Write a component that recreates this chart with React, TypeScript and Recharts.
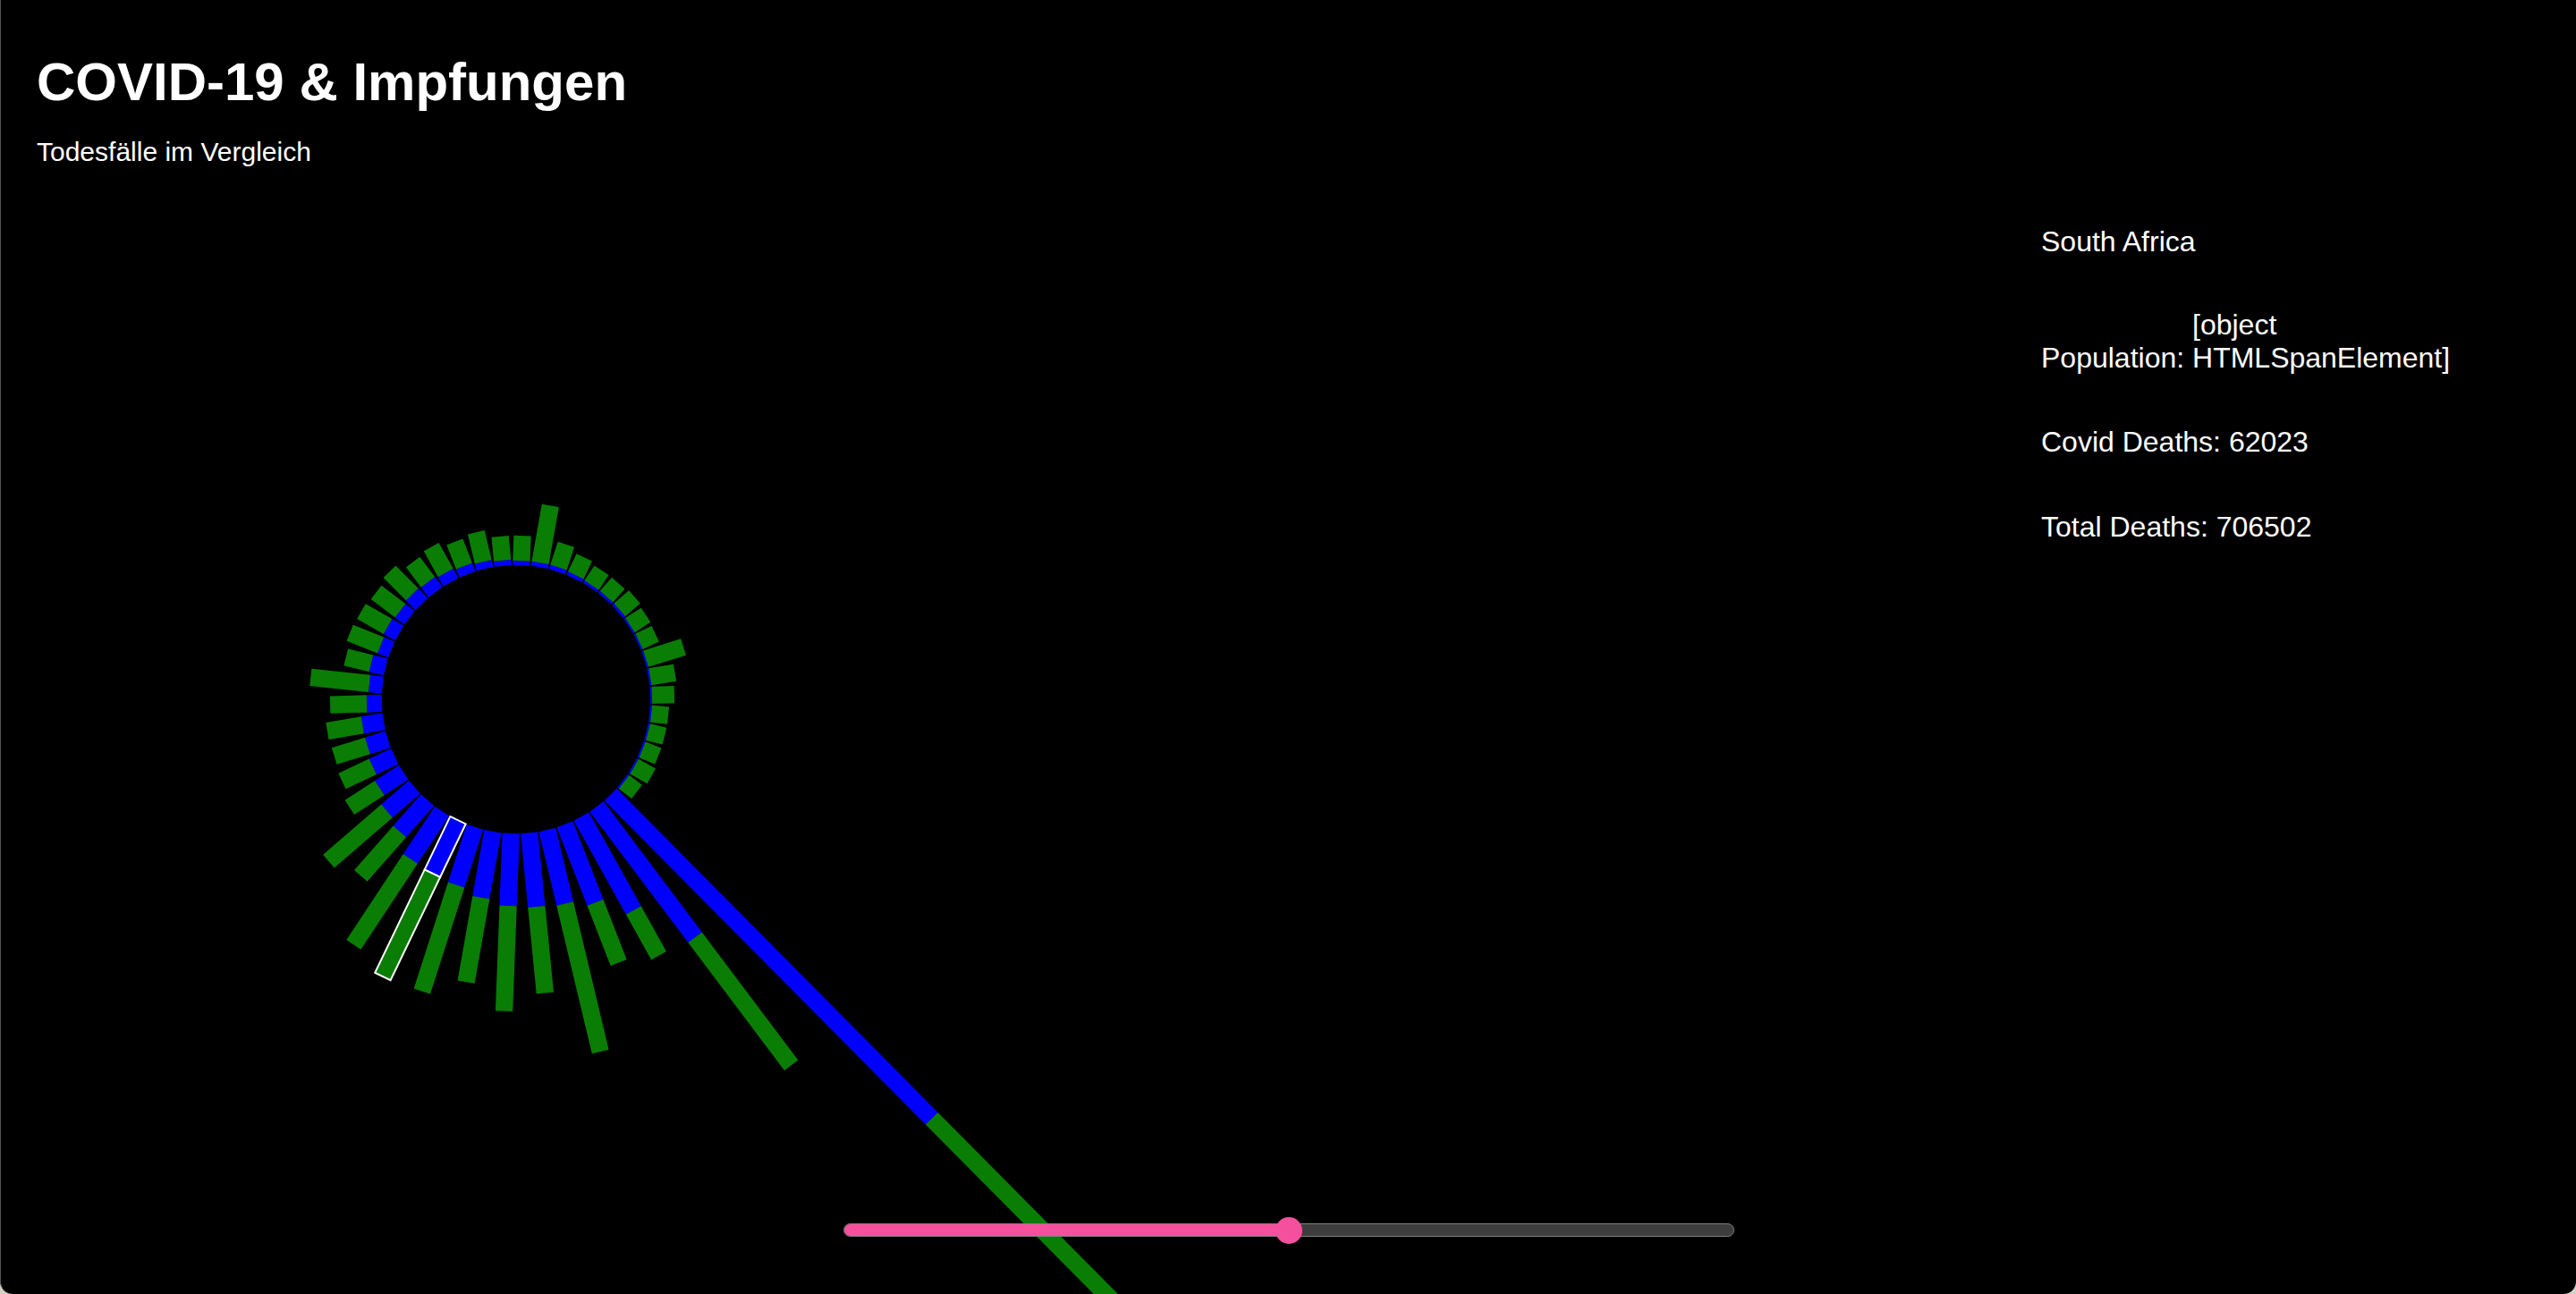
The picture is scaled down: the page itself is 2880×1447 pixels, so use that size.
import React from 'react';
import { RadialBarChart, RadialBar, PolarAngleAxis, PolarRadiusAxis } from 'recharts';

// bar lengths, in px-like units (inner ring is the 0 line)
const countries = [
  'Land 01', 'Land 02', 'Land 03', 'Land 04', 'Land 05', 'Land 06', 'Land 07', 'Land 08',
  'Land 09', 'Land 10', 'Land 11', 'Land 12', 'Land 13', 'Land 14', 'Land 15', 'Land 16',
  'Land 17', 'Land 18', 'Land 19', 'Land 20', 'Land 21', 'Land 22', 'Land 23', 'Land 24',
  'Land 25', 'Land 26', 'South Africa', 'Land 28', 'Land 29', 'Land 30', 'Land 31', 'Land 32',
  'Land 33', 'Land 34', 'Land 35', 'Land 36', 'Land 37', 'Land 38', 'Land 39', 'Land 40',
  'Land 41', 'Land 42', 'Land 43', 'Land 44', 'Land 45', 'Land 46',
];

const covidDeaths = [
  5, 5, 5, 4, 3, 3, 3, 2, 2, 2, 2, 2, 2, 2, 2, 2,
  2, 510, 183, 120, 94, 85, 83, 81, 75, 68, 66, 64, 47, 41, 32, 27,
  24, 24, 17, 15, 17, 13, 15, 13, 15, 14, 12, 10, 8, 6,
];

const otherDeaths = [
  28, 65, 27, 22, 20, 20, 22, 21, 20, 44, 28, 25, 19, 19, 19, 22,
  18, 390, 179, 58, 72, 170, 97, 118, 96, 125, 128, 115, 66, 86, 40, 38,
  39, 40, 41, 66, 29, 37, 34, 34, 36, 28, 33, 29, 34, 27,
];

const SELECTED = 'South Africa';
const INNER = 150;
const BAR_WIDTH = 19.3;

const data = countries.map((country, i) => ({
  country,
  covid: covidDeaths[i],
  other: otherDeaths[i],
}));

// draws each stacked segment as a straight rotated rect instead of a sector
const RectBar = (props: any) => {
  const { cx, cy, innerRadius, outerRadius, startAngle, endAngle, fill } = props;
  const country = props.payload?.country ?? props.country;
  const mid = (startAngle + endAngle) / 2;
  const len = Math.max(0, outerRadius - innerRadius);
  const sel = country === SELECTED;
  return (
    <rect
      x={innerRadius}
      y={-BAR_WIDTH / 2}
      width={len}
      height={BAR_WIDTH}
      fill={fill}
      stroke={sel ? '#ffffff' : 'none'}
      strokeWidth={sel ? 2 : 0}
      transform={`translate(${cx},${cy}) rotate(${-mid})`}
    />
  );
};

const font = '"Liberation Sans", Arial, Helvetica, sans-serif';

const textLine = (top: number, left: number, size: number): React.CSSProperties => ({
  position: 'absolute',
  top,
  left,
  fontSize: size,
  lineHeight: 1,
  color: '#fff',
  whiteSpace: 'nowrap',
});

export default function App() {
  return (
    <div style={{ position: 'fixed', inset: 0, background: '#d6d0c2', overflow: 'hidden' }}>
      <div
        style={{
          position: 'absolute',
          inset: 0,
          background: '#000',
          borderRadius: '0 0 14px 14px',
          borderLeft: '1px solid #555',
          overflow: 'hidden',
          fontFamily: font,
        }}
      >
        <div style={{ ...textLine(62, 40, 60), fontWeight: 700 }}>COVID-19 &amp; Impfungen</div>
        <div style={textLine(155, 40, 30)}>Todesfälle im Vergleich</div>

        <div style={{ position: 'absolute', left: 0, top: 0 }}>
          <RadialBarChart
            width={1400}
            height={1447}
            data={data}
            cx={576}
            cy={782}
            innerRadius={INNER}
            outerRadius={INNER + 1000}
            startAngle={84.07}
            endAngle={-275.93}
            layout="centric"
            barCategoryGap="2.9%"
            margin={{ top: 0, right: 0, bottom: 0, left: 0 }}
          >
            <PolarAngleAxis type="category" dataKey="country" tick={false} axisLine={false} tickLine={false} />
            <PolarRadiusAxis type="number" domain={[0, 1000]} tick={false} axisLine={false} tickLine={false} />
            <RadialBar dataKey="covid" stackId="a" fill="#0000ff" shape={RectBar} isAnimationActive={false} />
            <RadialBar dataKey="other" stackId="a" fill="#0a7d04" shape={RectBar} isAnimationActive={false} />
          </RadialBarChart>
        </div>

        <div style={textLine(254, 2281, 32)}>South Africa</div>
        <div style={{ position: 'absolute', top: 345, left: 2281, fontSize: 32, lineHeight: '37px', color: '#fff', whiteSpace: 'nowrap' }}>
          Population:{' '}
          <span style={{ display: 'inline-block' }}>
            [object
            <br />
            HTMLSpanElement]
          </span>
        </div>
        <div style={textLine(478, 2281, 32)}>Covid Deaths: 62023</div>
        <div style={textLine(573, 2281, 32)}>Total Deaths: 706502</div>

        {/* slider */}
        <div
          style={{
            position: 'absolute',
            left: 942,
            top: 1368,
            width: 996,
            height: 15,
            boxSizing: 'border-box',
            background: '#3d3d3d',
            border: '1.5px solid #808080',
            borderRadius: 8,
            overflow: 'hidden',
          }}
        >
          <div style={{ width: 498, height: '100%', background: '#f5509d' }} />
        </div>
        <div
          style={{
            position: 'absolute',
            left: 1425,
            top: 1361,
            width: 30,
            height: 30,
            borderRadius: '50%',
            background: '#f5509d',
          }}
        />
      </div>
    </div>
  );
}
